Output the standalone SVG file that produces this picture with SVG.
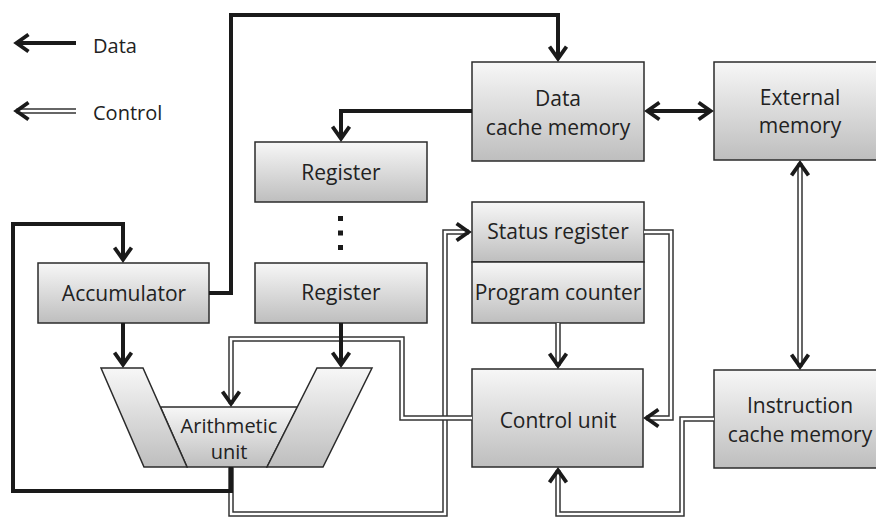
<svg xmlns="http://www.w3.org/2000/svg" width="876" height="517" viewBox="0 0 876 517">
  <defs>
    <linearGradient id="boxFill" x1="0" y1="0" x2="0" y2="1">
      <stop offset="0" stop-color="#f7f7f7"/>
      <stop offset="1" stop-color="#bebebe"/>
    </linearGradient>
    <marker id="head" markerUnits="userSpaceOnUse" viewBox="-20 -15 30 30" markerWidth="30" markerHeight="30" refX="0" refY="0" orient="auto-start-reverse" overflow="visible">
      <path d="M -12 -8.5 L 0 0 L -12 8.5" fill="none" stroke="#1a1a1a" stroke-width="3.8" stroke-linejoin="miter"/>
    </marker>
    <style>
      .box { fill: url(#boxFill); stroke: #2b2b2b; stroke-width: 1.5; }
      .label { font-family: "Open Sans", "Noto Sans", sans-serif; font-size: 21px; fill: #222; text-anchor: middle; }
      .alu { font-size: 20px; }
      .legend { font-family: "Open Sans", "Noto Sans", sans-serif; font-size: 20px; fill: #222; }
      .data { fill: none; stroke: #1a1a1a; stroke-width: 4; stroke-linejoin: miter; }
      .ctl-out { fill: none; stroke: #333; stroke-width: 5.5; stroke-linejoin: miter; }
      .ctl-in { fill: none; stroke: #fff; stroke-width: 2.5; stroke-linejoin: miter; }
      .dot { fill: #1a1a1a; }
    </style>
  </defs>

  <!-- legend -->
  <g id="legend">
    <path class="data" d="M 76 43 H 16.5" marker-end="url(#head)"/>
    <text class="legend" x="93" y="53">Data</text>
    <path class="ctl-out" d="M 76 111 H 16.5"/>
    <path class="ctl-in" d="M 76 111 H 16.5" marker-end="url(#head)"/>
    <text class="legend" x="93" y="120">Control</text>
  </g>

  <!-- nodes -->
  <g id="data-cache">
    <rect class="box" x="472" y="62" width="172" height="99"/>
    <text class="label" x="558" y="106">Data</text>
    <text class="label" x="558" y="135">cache memory</text>
  </g>
  <g id="external-memory">
    <rect class="box" x="714" y="62" width="172" height="98"/>
    <text class="label" x="800" y="105">External</text>
    <text class="label" x="800" y="133">memory</text>
  </g>
  <g id="register-top">
    <rect class="box" x="255" y="142" width="172" height="60"/>
    <text class="label" x="341" y="180">Register</text>
  </g>
  <g id="register-dots">
    <rect class="dot" x="338" y="216" width="5" height="5"/>
    <rect class="dot" x="338" y="230.5" width="5" height="5"/>
    <rect class="dot" x="338" y="245" width="5" height="5"/>
  </g>
  <g id="register-bottom">
    <rect class="box" x="255" y="263" width="172" height="60"/>
    <text class="label" x="341" y="300">Register</text>
  </g>
  <g id="accumulator">
    <rect class="box" x="38" y="263" width="171" height="60"/>
    <text class="label" x="124" y="301">Accumulator</text>
  </g>
  <g id="status-register">
    <rect class="box" x="472" y="202" width="172" height="60"/>
    <text class="label" x="558" y="239">Status register</text>
  </g>
  <g id="program-counter">
    <rect class="box" x="472" y="262" width="172" height="61"/>
    <text class="label" x="558" y="300">Program counter</text>
  </g>
  <g id="control-unit">
    <rect class="box" x="472" y="369" width="171" height="98"/>
    <text class="label" x="558" y="428">Control unit</text>
  </g>
  <g id="instruction-cache">
    <rect class="box" x="714" y="370" width="172" height="98"/>
    <text class="label" x="800" y="413">Instruction</text>
    <text class="label" x="800" y="442">cache memory</text>
  </g>
  <g id="arithmetic-unit">
    <polygon class="box" points="160.5,407 297.5,407 267,467 187,467"/>
    <polygon class="box" points="101,368 143,368 187,467 144,467"/>
    <polygon class="box" points="317,368 372,368 323,467 267,467"/>
    <text class="label alu" x="229" y="433">Arithmetic</text>
    <text class="label alu" x="229" y="459">unit</text>
  </g>

  <!-- connectors -->
  <g id="connectors">
    <!-- control paths -->
    <path class="ctl-out" d="M 231 467 V 514 H 445 V 232 H 468.6"/>
    <path class="ctl-in" d="M 231 467 V 514 H 445 V 232 H 468.6" marker-end="url(#head)"/>
    <path class="ctl-out" d="M 472 418 H 402 V 339 H 231 V 403.6"/>
    <path class="ctl-in" d="M 472 418 H 402 V 339 H 231 V 403.6" marker-end="url(#head)"/>
    <path class="ctl-out" d="M 558 323 V 365.6"/>
    <path class="ctl-in" d="M 558 323 V 365.6" marker-end="url(#head)"/>
    <path class="ctl-out" d="M 644 232 H 671 V 418 H 646.4"/>
    <path class="ctl-in" d="M 644 232 H 671 V 418 H 646.4" marker-end="url(#head)"/>
    <path class="ctl-out" d="M 714 419 H 682 V 514 H 558 V 470.4"/>
    <path class="ctl-in" d="M 714 419 H 682 V 514 H 558 V 470.4" marker-end="url(#head)"/>
    <path class="ctl-out" d="M 800 163.4 V 366.6"/>
    <path class="ctl-in" d="M 800 163.4 V 366.6" marker-start="url(#head)" marker-end="url(#head)"/>
    <!-- data paths -->
    <path class="data" d="M 209 293 H 231 V 15 H 558 V 58.6" marker-end="url(#head)"/>
    <path class="data" d="M 472 111 H 341 V 138.6" marker-end="url(#head)"/>
    <path class="data" d="M 647.4 111 H 710.6" marker-start="url(#head)" marker-end="url(#head)"/>
    <path class="data" d="M 231 467 V 491 H 13 V 224 H 123 V 259.6" marker-end="url(#head)"/>
    <path class="data" d="M 123 323 V 364.6" marker-end="url(#head)"/>
    <path class="data" d="M 341 323 V 364.6" marker-end="url(#head)"/>
  </g>
</svg>
